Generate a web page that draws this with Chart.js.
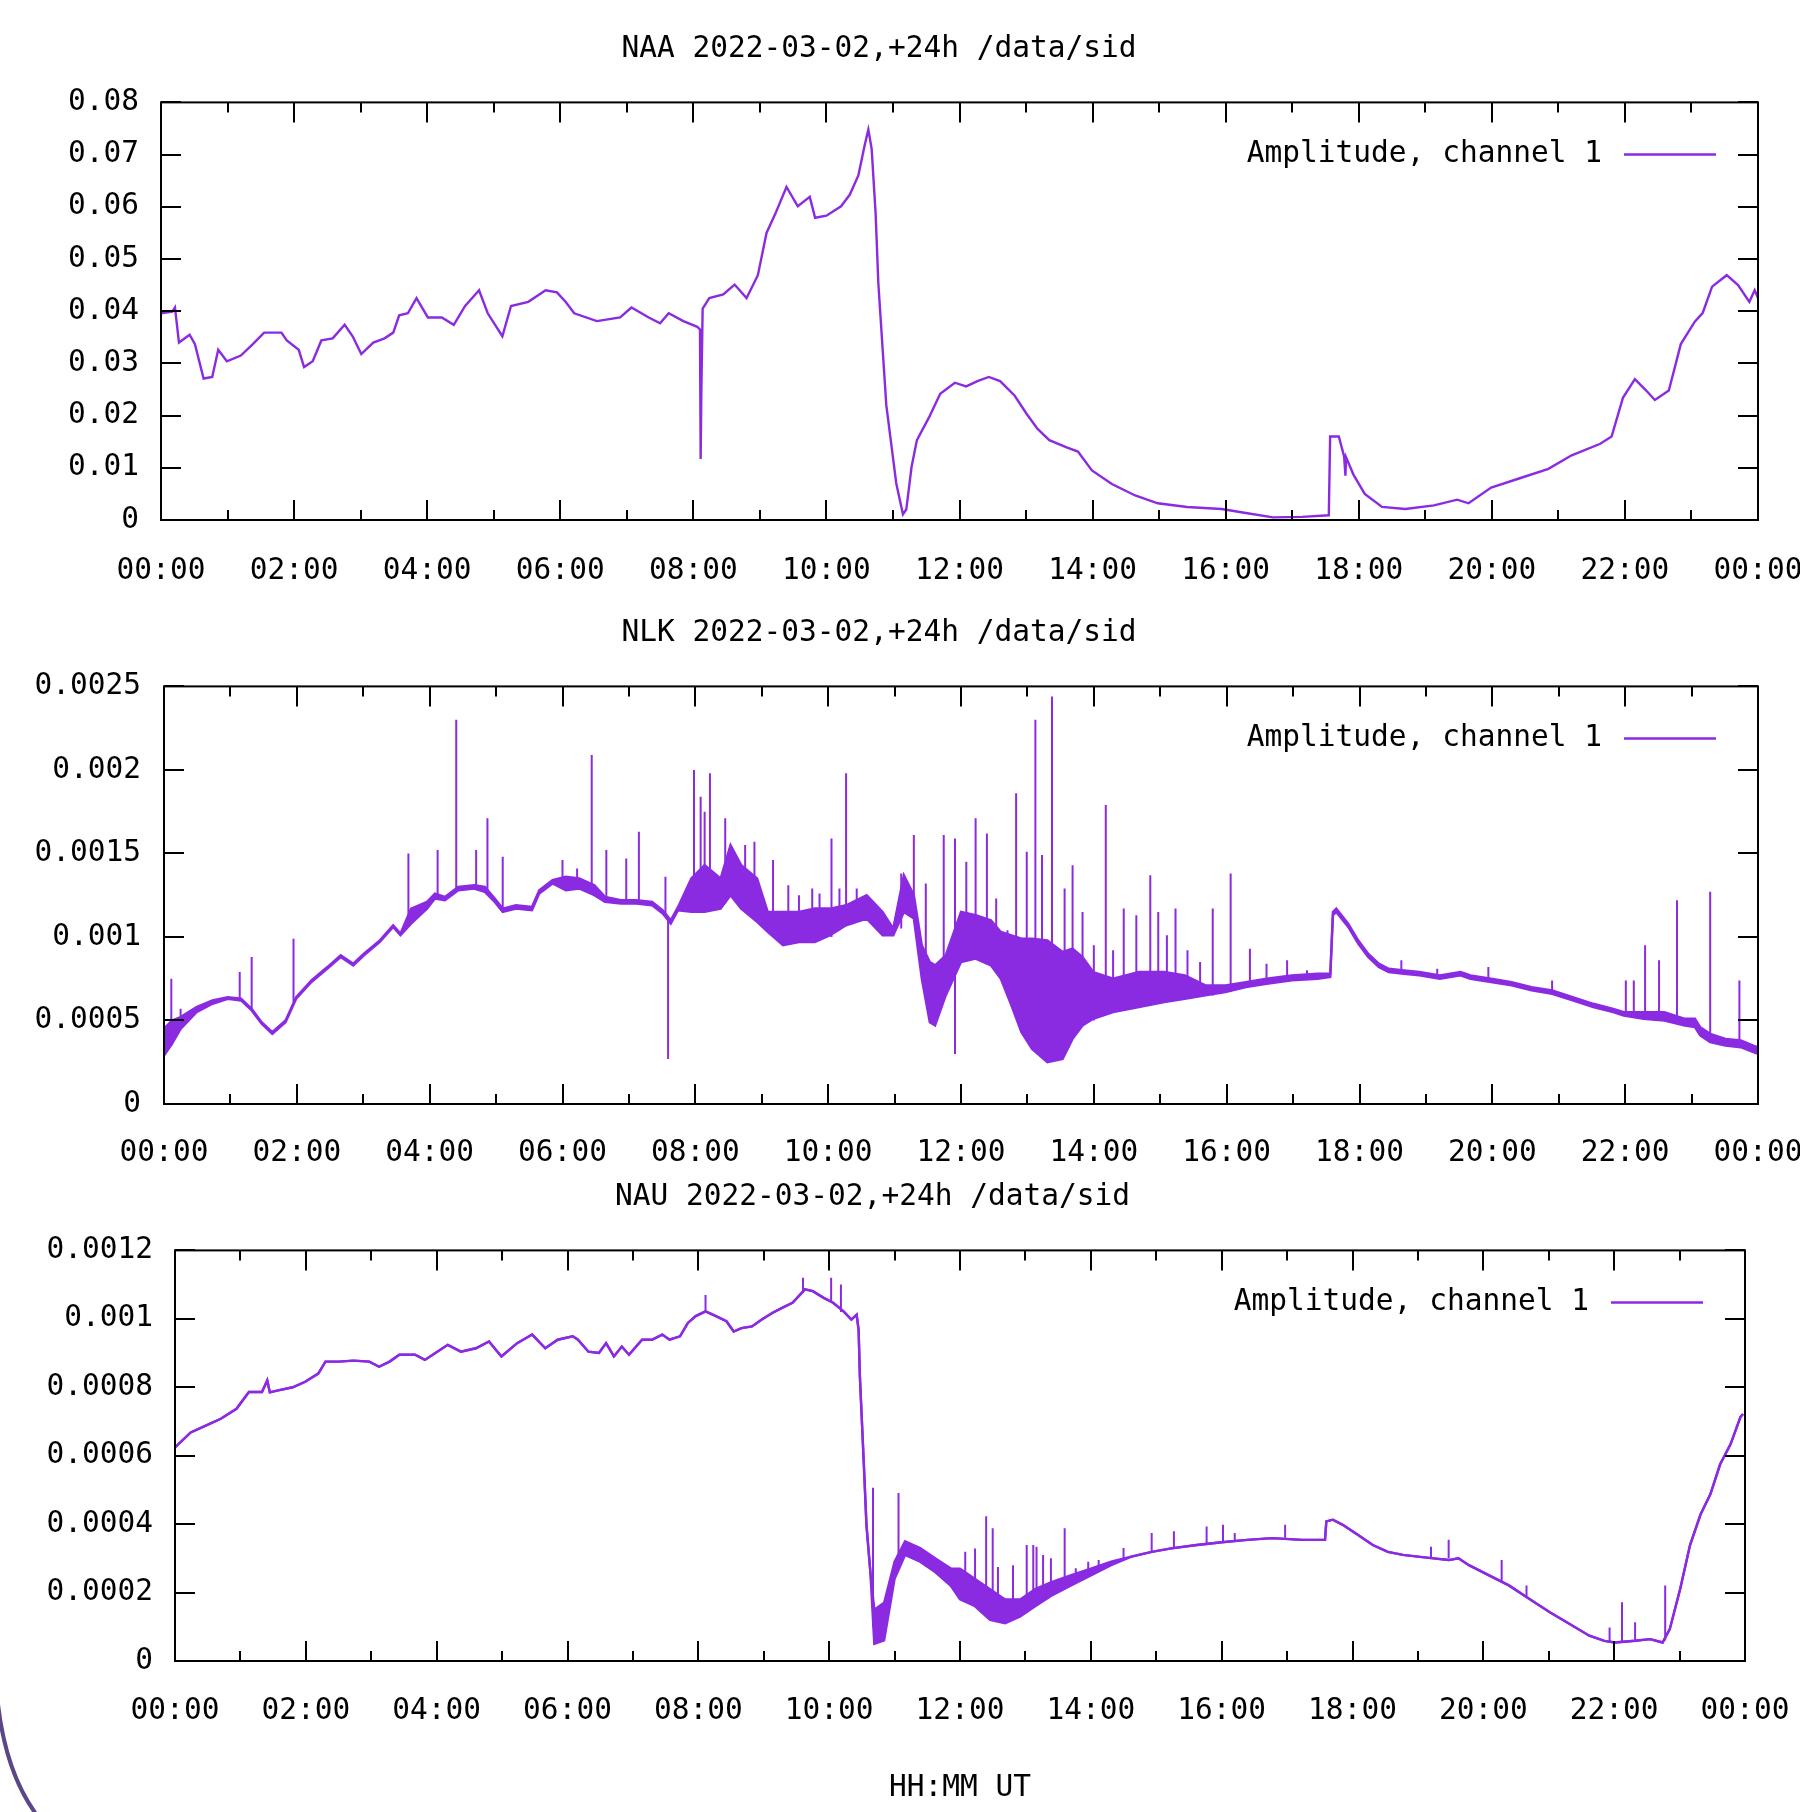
<!DOCTYPE html>
<html>
<head>
<meta charset="utf-8">
<title>SID 2022-03-02</title>
<script src="https://cdn.jsdelivr.net/npm/chart.js@4.4.0/dist/chart.umd.min.js"></script>
<style>
  html, body { margin: 0; padding: 0; background: #fff; overflow: hidden; }
  .panel { position: absolute; left: 0; width: 1800px; }
  #p1 { top: 0; height: 600px; }
  #p2 { top: 600px; height: 580px; }
  #p3 { top: 1180px; height: 632px; }
</style>
</head>
<body>
<div class="panel" id="p1"><canvas id="naaChart"></canvas></div>
<div class="panel" id="p2"><canvas id="nlkChart"></canvas></div>
<div class="panel" id="p3"><canvas id="nauChart"></canvas></div>
<script>
// SID receiver amplitudes, 2022-03-02 (hours UT)

const seriesLabel = 'Amplitude, channel 1';

// NAA
const naaHours = [
  0, 0.17, 0.21, 0.27, 0.43, 0.51, 0.64, 0.77, 0.86, 0.99,
  1.2, 1.38, 1.55, 1.81, 1.89, 2.07, 2.15, 2.28, 2.41, 2.58,
  2.76, 2.88, 3.01, 3.19, 3.36, 3.49, 3.58, 3.71, 3.84, 4.01,
  4.22, 4.4, 4.57, 4.78, 4.91, 5.13, 5.26, 5.52, 5.78, 5.95,
  6.08, 6.21, 6.55, 6.9, 7.07, 7.33, 7.5, 7.63, 7.85, 8.06,
  8.1, 8.11, 8.12, 8.14, 8.24, 8.45, 8.62, 8.8, 8.97, 9.1,
  9.23, 9.4, 9.57, 9.75, 9.83, 10.0, 10.22, 10.35, 10.48, 10.57,
  10.63, 10.68, 10.74, 10.78, 10.9, 11.05, 11.15, 11.2, 11.28, 11.36,
  11.54, 11.71, 11.93, 12.1, 12.27, 12.44, 12.61, 12.83, 13.0, 13.17,
  13.35, 13.61, 13.78, 13.99, 14.29, 14.64, 14.98, 15.42, 15.94, 16.28,
  16.71, 17.15, 17.55, 17.57, 17.7, 17.78, 17.8, 17.81, 17.92, 18.09,
  18.35, 18.7, 19.13, 19.48, 19.65, 19.99, 20.42, 20.85, 21.2, 21.63,
  21.8, 21.97, 22.15, 22.32, 22.45, 22.66, 22.84, 23.05, 23.17, 23.31,
  23.53, 23.7, 23.87, 23.95, 24.0
];
const naaAmplitude = [
  0.0396, 0.0399, 0.0407, 0.034, 0.0355, 0.0337, 0.0271, 0.0274, 0.0326, 0.0304,
  0.0315, 0.0337, 0.0359, 0.0359, 0.0344, 0.0326, 0.0293, 0.0304, 0.0344, 0.0348,
  0.0374, 0.0352, 0.0318, 0.034, 0.0348, 0.0359, 0.0392, 0.0396, 0.0425, 0.0388,
  0.0388, 0.0374, 0.041, 0.044, 0.0396, 0.0352, 0.041, 0.0418, 0.044, 0.0436,
  0.0418, 0.0396, 0.0381, 0.0388, 0.0407, 0.0388, 0.0377, 0.0396, 0.0381, 0.037,
  0.0365, 0.0117, 0.024, 0.0405, 0.0425, 0.0432, 0.0451, 0.0425, 0.0469, 0.055,
  0.0586, 0.0638, 0.0601, 0.0619, 0.0579, 0.0583, 0.0601, 0.0623, 0.066, 0.0715,
  0.0748, 0.0711, 0.0586, 0.0454, 0.022, 0.007, 0.0011, 0.002, 0.0102, 0.0153,
  0.0196, 0.0242, 0.0263, 0.0256, 0.0266, 0.0274, 0.0266, 0.0238, 0.0205, 0.0175,
  0.0153, 0.0139, 0.0131, 0.0095, 0.0069, 0.0047, 0.0032, 0.0025, 0.0021, 0.0014,
  0.0005, 0.0006, 0.0009, 0.016, 0.016, 0.0122, 0.0085, 0.012, 0.0087, 0.005,
  0.0025, 0.0021, 0.0028, 0.0039, 0.0032, 0.0062, 0.008, 0.0098, 0.0124, 0.0146,
  0.016, 0.0234, 0.027, 0.0248, 0.023, 0.0248, 0.0337, 0.038, 0.0397, 0.0447,
  0.0469, 0.045, 0.0418, 0.044, 0.0425
];

// NLK: noisy trace given as lower / upper edge, plus isolated spikes
const nlkHours = [
  0, 0.12, 0.25, 0.49, 0.73, 0.96, 1.16, 1.32, 1.47, 1.63,
  1.83, 1.99, 2.22, 2.46, 2.66, 2.85, 3.01, 3.25, 3.45, 3.56,
  3.72, 3.96, 4.08, 4.23, 4.43, 4.67, 4.83, 4.98, 5.1, 5.3,
  5.54, 5.65, 5.85, 6.05, 6.25, 6.48, 6.64, 6.88, 7.11, 7.35,
  7.51, 7.63, 7.74, 7.94, 8.14, 8.38, 8.53, 8.69, 8.93, 9.09,
  9.32, 9.56, 9.8, 10.03, 10.27, 10.58, 10.82, 10.98, 11.14, 11.29,
  11.41, 11.53, 11.61, 11.77, 12.0, 12.22, 12.45, 12.6, 12.76, 12.91,
  13.07, 13.3, 13.53, 13.68, 13.83, 13.99, 14.29, 14.68, 15.06, 15.37,
  15.68, 15.98, 16.29, 16.6, 16.98, 17.37, 17.56, 17.6, 17.65, 17.83,
  17.98, 18.13, 18.29, 18.44, 18.67, 18.9, 19.21, 19.52, 19.67, 19.98,
  20.29, 20.59, 20.9, 21.21, 21.52, 21.82, 21.98, 22.28, 22.59, 22.9,
  23.05, 23.13, 23.28, 23.51, 23.74, 23.93, 24.0
];
const nlkLow = [
  0.00029, 0.00036, 0.00045, 0.00055, 0.0006, 0.00063, 0.00062, 0.00056, 0.00048, 0.00042,
  0.00049, 0.00063, 0.00073, 0.00081, 0.00088, 0.00083, 0.00089, 0.00097, 0.00106, 0.00101,
  0.00108, 0.00117, 0.00123, 0.00122, 0.00128, 0.00129, 0.00127, 0.00121, 0.00115, 0.00117,
  0.00116, 0.00126, 0.00132, 0.00128, 0.00129, 0.00125, 0.00121, 0.0012, 0.0012, 0.00119,
  0.00114, 0.00108, 0.00116, 0.00115, 0.00115, 0.00117, 0.00125, 0.00117, 0.00109, 0.00103,
  0.00095, 0.00097, 0.00097, 0.00101, 0.00107, 0.00111, 0.00101, 0.00101, 0.00115, 0.00111,
  0.00075, 0.00049, 0.00047, 0.00065, 0.00085, 0.00087, 0.00083, 0.00075, 0.00059, 0.00043,
  0.00033, 0.00025, 0.00027, 0.00039, 0.00047, 0.00051, 0.00055, 0.00058, 0.00061, 0.00063,
  0.00065, 0.00067, 0.0007, 0.00072, 0.00074, 0.00075, 0.00076, 0.00113, 0.00115, 0.00106,
  0.00096, 0.00088, 0.00082, 0.00079, 0.00078, 0.00077, 0.00075, 0.00077, 0.00075, 0.00073,
  0.00071, 0.00068, 0.00066, 0.00062, 0.00058, 0.00055, 0.00053, 0.00051, 0.0005, 0.00047,
  0.00046, 0.00041, 0.00037, 0.00035, 0.00034, 0.00031, 0.0003
];
const nlkHigh = [
  0.00045, 0.0005, 0.00052, 0.00058, 0.00062, 0.00064, 0.00063, 0.00057, 0.00049, 0.00043,
  0.0005, 0.00064, 0.00074, 0.00082, 0.00089, 0.00084, 0.0009, 0.00098, 0.00107, 0.00102,
  0.00117, 0.00121, 0.00126, 0.00124, 0.0013, 0.00131, 0.0013, 0.00123, 0.00117, 0.00119,
  0.00118, 0.00128, 0.00134, 0.00136, 0.00135, 0.00131, 0.00124, 0.00122, 0.00122, 0.00121,
  0.00116, 0.0011, 0.00118, 0.00135, 0.00143, 0.00135, 0.00155, 0.00143, 0.00135, 0.00115,
  0.00115, 0.00115, 0.00117, 0.00117, 0.00119, 0.00125, 0.00115, 0.00105, 0.00137, 0.00125,
  0.00095, 0.00085, 0.00083, 0.00089, 0.00115, 0.00113, 0.0011, 0.00103, 0.00101, 0.00099,
  0.00099, 0.00098, 0.00091, 0.00093, 0.00088, 0.00079, 0.00075, 0.00079, 0.00079, 0.00077,
  0.00071, 0.00071, 0.00073, 0.00075, 0.00077, 0.00078, 0.00078, 0.00115, 0.00117, 0.00108,
  0.00098, 0.0009, 0.00084, 0.00081, 0.0008, 0.00079, 0.00077, 0.00079, 0.00077, 0.00075,
  0.00073, 0.0007, 0.00068, 0.00064, 0.0006, 0.00057, 0.00055, 0.00055, 0.00055, 0.00051,
  0.00051, 0.00046, 0.00042, 0.00039, 0.00038, 0.00035, 0.00034
];
const nlkSpikeHours = [
  0.11, 0.25, 1.14, 1.32, 1.95, 3.68, 4.12, 4.4, 4.7, 4.87,
  5.1, 6.0, 6.22, 6.44, 6.66, 6.96, 7.15, 7.55, 7.59, 7.98,
  8.08, 8.14, 8.22, 8.45, 8.75, 8.89, 9.17, 9.4, 9.56, 9.76,
  9.87, 10.05, 10.17, 10.27, 10.43, 11.1, 11.29, 11.47, 11.74, 11.91,
  12.08, 12.22, 12.39, 12.53, 12.7, 12.83, 12.99, 13.12, 13.22, 13.37,
  13.56, 13.68, 13.83, 14.0, 14.18, 14.29, 14.45, 14.64, 14.85, 14.97,
  15.1, 15.23, 15.41, 15.6, 15.79, 16.06, 16.35, 16.6, 16.91, 17.21,
  18.63, 19.17, 19.94, 20.9, 22.01, 22.13, 22.3, 22.51, 22.78, 23.28,
  23.72
];
const nlkSpikeBase = [
  0.00035, 0.00045, 0.00062, 0.00056, 0.00061, 0.0011, 0.00124, 0.00128, 0.0013, 0.00128,
  0.00116, 0.0013, 0.0013, 0.00126, 0.00122, 0.00121, 0.00121, 0.00114, 0.00027, 0.0012,
  0.0012, 0.0012, 0.0012, 0.0012, 0.00115, 0.0011, 0.001, 0.00096, 0.00097, 0.00097,
  0.00098, 0.001, 0.00104, 0.00107, 0.0011, 0.00105, 0.00111, 0.0009, 0.0007, 0.0003,
  0.0009, 0.00087, 0.00085, 0.0008, 0.0007, 0.0006, 0.0004, 0.00035, 0.0003, 0.0003,
  0.0003, 0.0004, 0.00047, 0.0005, 0.00055, 0.00055, 0.00056, 0.00058, 0.0006, 0.00061,
  0.00061, 0.00062, 0.00063, 0.00064, 0.00065, 0.00067, 0.0007, 0.00072, 0.00074, 0.00075,
  0.00078, 0.00075, 0.00073, 0.00066, 0.00053, 0.00052, 0.00051, 0.0005, 0.00049, 0.00037,
  0.00034
];
const nlkSpikePeak = [
  0.00075, 0.00057, 0.00079, 0.00088, 0.00099, 0.0015, 0.00152, 0.0023, 0.00152, 0.00171,
  0.00148, 0.00146, 0.00141, 0.00209, 0.00152, 0.00147, 0.00163, 0.00136, 0.00112, 0.002,
  0.00184, 0.00175, 0.00198, 0.00171, 0.00155, 0.00157, 0.00146, 0.00131, 0.00125, 0.00129,
  0.00126, 0.00159, 0.00129, 0.00198, 0.00129, 0.00138, 0.00161, 0.00132, 0.00161, 0.00159,
  0.00145, 0.00171, 0.00162, 0.00123, 0.00104, 0.00186, 0.00151, 0.0023, 0.00149, 0.00244,
  0.00129, 0.00143, 0.00115, 0.00095, 0.00179, 0.00092, 0.00117, 0.00113, 0.00137, 0.00115,
  0.00101, 0.00117, 0.00092, 0.00085, 0.00117, 0.00138, 0.00093, 0.00084, 0.00086, 0.0008,
  0.00086, 0.00081, 0.00082, 0.00074, 0.00074, 0.00074, 0.00095, 0.00086, 0.00122, 0.00127,
  0.00074
];

// NAU
const nauHours = [
  0, 0.24, 0.47, 0.7, 0.94, 1.13, 1.33, 1.41, 1.45, 1.56,
  1.8, 1.99, 2.19, 2.3, 2.5, 2.73, 2.97, 3.12, 3.28, 3.43,
  3.67, 3.82, 3.98, 4.17, 4.37, 4.6, 4.8, 4.99, 5.23, 5.46,
  5.66, 5.85, 6.08, 6.16, 6.32, 6.48, 6.59, 6.71, 6.83, 6.94,
  7.14, 7.29, 7.45, 7.56, 7.72, 7.84, 7.96, 8.11, 8.27, 8.43,
  8.54, 8.66, 8.82, 8.97, 9.13, 9.28, 9.44, 9.63, 9.75, 9.91,
  10.06, 10.22, 10.34, 10.42, 10.45, 10.47, 10.53, 10.57, 10.63, 10.69,
  10.84, 11.0, 11.16, 11.39, 11.62, 11.86, 12.0, 12.23, 12.46, 12.69,
  12.92, 13.15, 13.39, 13.69, 14.0, 14.31, 14.62, 14.93, 15.23, 15.62,
  16.0, 16.39, 16.77, 17.23, 17.58, 17.6, 17.7, 17.85, 18.08, 18.31,
  18.54, 18.77, 19.0, 19.24, 19.47, 19.62, 19.78, 20.08, 20.39, 20.7,
  21.01, 21.32, 21.62, 21.85, 22.01, 22.32, 22.55, 22.74, 22.85, 23.01,
  23.16, 23.32, 23.47, 23.62, 23.78, 23.93, 23.97
];
const nauLow = [
  0.000624, 0.000668, 0.000688, 0.000708, 0.000737, 0.000786, 0.000786, 0.00082, 0.000785, 0.00079,
  0.0008, 0.000816, 0.00084, 0.000875, 0.000875, 0.000878, 0.000875, 0.00086, 0.000875, 0.000895,
  0.000895, 0.00088, 0.0009, 0.000924, 0.000904, 0.000914, 0.000934, 0.00089, 0.000929, 0.000954,
  0.000914, 0.000939, 0.000949, 0.000939, 0.000904, 0.0009, 0.000929, 0.00089, 0.000919, 0.000895,
  0.000939, 0.000939, 0.000954, 0.000939, 0.000949, 0.000988, 0.001008, 0.001022, 0.001008, 0.000993,
  0.000963, 0.000973, 0.000978, 0.000998, 0.001017, 0.001032, 0.001047, 0.001086, 0.001081, 0.001062,
  0.001047, 0.001022, 0.000998, 0.001012, 0.000968, 0.00083, 0.000575, 0.000398, 0.00026, 0.00005,
  0.00006, 0.00024, 0.00031, 0.00029, 0.00026, 0.00022, 0.00018, 0.00016, 0.00012, 0.00011,
  0.00013, 0.00016, 0.00019, 0.00022, 0.00025, 0.00028, 0.000305, 0.000319, 0.000329, 0.000339,
  0.000347, 0.000354, 0.000359, 0.000354, 0.000354, 0.000408, 0.000413, 0.000398, 0.000369, 0.000339,
  0.000319, 0.00031, 0.000305, 0.0003, 0.000295, 0.0003, 0.00028, 0.000251, 0.000221, 0.000182,
  0.000143, 0.000108, 0.000074, 0.000059, 0.000054, 0.000059, 0.000064, 0.000054, 0.000093, 0.000211,
  0.000339, 0.000428, 0.000487, 0.000575, 0.000634, 0.000713, 0.000722
];
const nauHigh = [
  0.000624, 0.000668, 0.000688, 0.000708, 0.000737, 0.000786, 0.000786, 0.00082, 0.000785, 0.00079,
  0.0008, 0.000816, 0.00084, 0.000875, 0.000875, 0.000878, 0.000875, 0.00086, 0.000875, 0.000895,
  0.000895, 0.00088, 0.0009, 0.000924, 0.000904, 0.000914, 0.000934, 0.00089, 0.000929, 0.000954,
  0.000914, 0.000939, 0.000949, 0.000939, 0.000904, 0.0009, 0.000929, 0.00089, 0.000919, 0.000895,
  0.000939, 0.000939, 0.000954, 0.000939, 0.000949, 0.000988, 0.001008, 0.001022, 0.001008, 0.000993,
  0.000963, 0.000973, 0.000978, 0.000998, 0.001017, 0.001032, 0.001047, 0.001086, 0.001081, 0.001062,
  0.001047, 0.001022, 0.000998, 0.001012, 0.000968, 0.00083, 0.000575, 0.000398, 0.00026, 0.00015,
  0.00017, 0.00029, 0.00035, 0.00033, 0.0003, 0.00027, 0.00027, 0.00024, 0.00021, 0.00018,
  0.00018, 0.00021, 0.00023, 0.00025, 0.00027, 0.00029, 0.000305, 0.000319, 0.000329, 0.000339,
  0.000347, 0.000354, 0.000359, 0.000354, 0.000354, 0.000408, 0.000413, 0.000398, 0.000369, 0.000339,
  0.000319, 0.00031, 0.000305, 0.0003, 0.000295, 0.0003, 0.00028, 0.000251, 0.000221, 0.000182,
  0.000143, 0.000108, 0.000074, 0.000059, 0.000054, 0.000059, 0.000064, 0.000054, 0.000093, 0.000211,
  0.000339, 0.000428, 0.000487, 0.000575, 0.000634, 0.000713, 0.000722
];
const nauSpikeHours = [
  8.11, 9.6, 10.03, 10.18, 10.67, 11.06, 12.08, 12.23, 12.4, 12.5,
  12.58, 12.81, 13.02, 13.12, 13.17, 13.27, 13.39, 13.6, 13.77, 13.96,
  14.12, 14.5, 14.93, 15.27, 15.77, 16.02, 16.2, 16.97, 19.2, 19.47,
  20.28, 20.66, 21.93, 22.12, 22.32, 22.78
];
const nauSpikeBase = [
  0.00102, 0.00108, 0.00105, 0.00102, 0.0001, 0.00028, 0.0002, 0.00018, 0.00016, 0.00015,
  0.00015, 0.00014, 0.00015, 0.00016, 0.00017, 0.00018, 0.00019, 0.00021, 0.00023, 0.00025,
  0.00026, 0.0003, 0.00032, 0.00033, 0.00034, 0.00035, 0.00035, 0.00036, 0.0003, 0.0003,
  0.00023, 0.00019, 0.000055, 0.000055, 0.00006, 0.00006
];
const nauSpikePeak = [
  0.00107, 0.00112, 0.00112, 0.0011, 0.000506, 0.000491, 0.000319, 0.000329, 0.000423, 0.000388,
  0.000275, 0.00028, 0.000339, 0.000339, 0.000334, 0.00031, 0.0003, 0.000388, 0.000271, 0.00029,
  0.000295, 0.00033, 0.000374, 0.000379, 0.000393, 0.000398, 0.000374, 0.000398, 0.000334, 0.000354,
  0.000295, 0.000221, 0.000098, 0.000172, 0.000113, 0.000221
];

const LINE = '#8a2be2';
const FONT_FAMILY = "'DejaVu Sans Mono', monospace";
const FONT_SIZE = 29.5;

function pts(xs, ys) {
  return xs.map((x, i) => ({ x: x, y: ys[i] }));
}

// each spike is a vertical stroke base -> peak, separated by a gap
function spikePts(xs, lo, hi) {
  return xs.flatMap((x, i) => [{ x: x, y: lo[i] }, { x: x, y: hi[i] }, { x: x, y: null }]);
}

function lineSet(data, extra) {
  return Object.assign({
    type: 'line',
    data: data,
    borderColor: LINE,
    borderWidth: 2.4,
    pointRadius: 0,
    tension: 0,
    fill: false
  }, extra || {});
}

// gnuplot style box with inward ticks and a legend in the top right corner
const gnuFrame = {
  id: 'gnuFrame',
  afterDraw(chart) {
    const { ctx, chartArea: a, scales: { x, y } } = chart;
    ctx.save();
    ctx.strokeStyle = '#000';
    ctx.lineWidth = 2;
    ctx.strokeRect(a.left, a.top, a.right - a.left, a.bottom - a.top);
    ctx.beginPath();
    for (let h = 1; h < 24; h++) {
      const px = Math.round(x.getPixelForValue(h));
      const len = h % 2 === 0 ? 20 : 10;
      ctx.moveTo(px, a.bottom); ctx.lineTo(px, a.bottom - len);
      ctx.moveTo(px, a.top); ctx.lineTo(px, a.top + len);
    }
    y.ticks.forEach(t => {
      const py = Math.round(y.getPixelForValue(t.value));
      ctx.moveTo(a.left, py); ctx.lineTo(a.left + 20, py);
      ctx.moveTo(a.right, py); ctx.lineTo(a.right - 20, py);
    });
    ctx.stroke();

    const ly = a.top + 52;
    ctx.font = FONT_SIZE + 'px ' + FONT_FAMILY;
    ctx.fillStyle = '#000';
    ctx.textAlign = 'right';
    ctx.textBaseline = 'middle';
    ctx.fillText(chart.data.datasets[0].label, a.right - 156, ly);
    ctx.beginPath();
    ctx.strokeStyle = LINE;
    ctx.lineWidth = 2.5;
    ctx.moveTo(a.right - 134, ly);
    ctx.lineTo(a.right - 42, ly);
    ctx.stroke();
    ctx.restore();
  }
};

// stray pen stroke in the lower left corner of the scan
const cornerArc = {
  id: 'cornerArc',
  afterDraw(chart) {
    const ctx = chart.ctx;
    ctx.save();
    ctx.strokeStyle = '#5a4688';
    ctx.lineWidth = 4;
    ctx.beginPath();
    ctx.moveTo(-3, 515);
    ctx.quadraticCurveTo(4, 590, 36, 634);
    ctx.stroke();
    ctx.restore();
  }
};

function hhmm(v) {
  return String(v % 24).padStart(2, '0') + ':00';
}

function makePanel(id, cfg) {
  const font = { family: FONT_FAMILY, size: FONT_SIZE, weight: 'normal' };
  return new Chart(document.getElementById(id), {
    type: 'line',
    data: { datasets: cfg.datasets },
    plugins: cfg.plugins,
    options: {
      responsive: true,
      maintainAspectRatio: false,
      devicePixelRatio: 1,
      animation: false,
      events: [],
      layout: { padding: { left: 0, top: 0, right: cfg.rightPad, bottom: 0 } },
      plugins: {
        legend: { display: false },
        tooltip: { enabled: false },
        title: {
          display: true,
          text: cfg.title,
          color: '#000',
          font: font,
          padding: { top: cfg.titleTop, bottom: cfg.titleBottom }
        }
      },
      scales: {
        x: {
          type: 'linear',
          min: 0,
          max: 24,
          offset: false,
          grid: { display: false, drawTicks: false },
          border: { display: false },
          ticks: {
            stepSize: 2,
            autoSkip: false,
            maxRotation: 0,
            padding: cfg.xPad,
            color: '#000',
            font: font,
            callback: hhmm
          },
          title: cfg.xTitle ? {
            display: true,
            text: cfg.xTitle,
            color: '#000',
            font: font,
            padding: { top: 0, bottom: 6 }
          } : { display: false },
          afterFit(s) {
            s.height = cfg.xHeight;
            s.paddingLeft = 0;
            s.paddingRight = 0;
          }
        },
        y: {
          min: 0,
          max: cfg.yMax,
          grid: { display: false, drawTicks: false },
          border: { display: false },
          ticks: {
            stepSize: cfg.yStep,
            padding: cfg.yPad,
            color: '#000',
            font: font,
            callback: v => (v === 0 ? '0' : String(+v.toFixed(6)))
          },
          afterFit(s) {
            s.width = cfg.yWidth;
          }
        }
      }
    }
  });
}

makePanel('naaChart', {
  title: 'NAA 2022-03-02,+24h /data/sid',
  datasets: [lineSet(pts(naaHours, naaAmplitude), { label: seriesLabel })],
  plugins: [gnuFrame],
  yMax: 0.08, yStep: 0.01,
  yWidth: 161, rightPad: 42,
  titleTop: 32, titleBottom: 35,
  xHeight: 80, xPad: 34, yPad: 22
});

makePanel('nlkChart', {
  title: 'NLK 2022-03-02,+24h /data/sid',
  datasets: [
    lineSet(pts(nlkHours, nlkLow), { label: seriesLabel }),
    lineSet(pts(nlkHours, nlkHigh), { label: 'upper', fill: '-1', backgroundColor: LINE }),
    lineSet(spikePts(nlkSpikeHours, nlkSpikeBase, nlkSpikePeak), { label: 'spikes', borderWidth: 2, spanGaps: false })
  ],
  plugins: [gnuFrame],
  yMax: 0.0025, yStep: 0.0005,
  yWidth: 164, rightPad: 42,
  titleTop: 16, titleBottom: 35,
  xHeight: 76, xPad: 32, yPad: 23
});

makePanel('nauChart', {
  title: 'NAU 2022-03-02,+24h /data/sid',
  datasets: [
    lineSet(pts(nauHours, nauLow), { label: seriesLabel }),
    lineSet(pts(nauHours, nauHigh), { label: 'upper', fill: '-1', backgroundColor: LINE }),
    lineSet(spikePts(nauSpikeHours, nauSpikeBase, nauSpikePeak), { label: 'spikes', borderWidth: 2, spanGaps: false })
  ],
  plugins: [gnuFrame, cornerArc],
  yMax: 0.0012, yStep: 0.0002,
  yWidth: 175, rightPad: 55,
  titleTop: 0, titleBottom: 35,
  xHeight: 151, xPad: 33, yPad: 22,
  xTitle: 'HH:MM UT'
});
</script>
</body>
</html>
